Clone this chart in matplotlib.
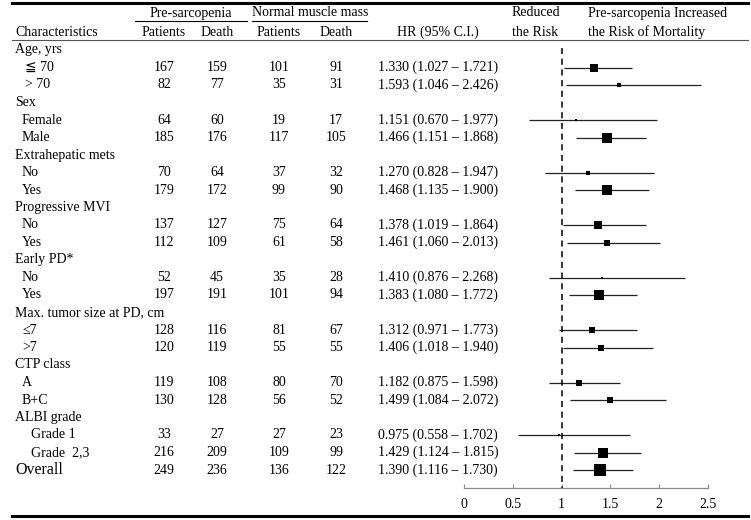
import matplotlib
matplotlib.use("Agg")
import matplotlib.pyplot as plt
import matplotlib.transforms as mtransforms

plt.rcParams['font.family'] = ['Liberation Serif', 'DejaVu Serif', 'DejaVu Sans', 'Noto Sans CJK JP']

# subgroup structure
groups = ["Age, yrs", "Sex", "Extrahepatic mets", "Progressive MVI", "Early PD*",
          "Max. tumor size at PD, cm", "CTP class", "ALBI grade"]
sublabels = [["\u2266 70", "> 70"], ["Female", "Male"], ["No", "Yes"], ["No", "Yes"],
             ["No", "Yes"], ["\u22647", ">7"], ["A", "B+C"], ["Grade 1", "Grade  2,3"]]

pre_pat = [167, 82, 64, 185, 70, 179, 137, 112, 52, 197, 128, 120, 119, 130, 33, 216, 249]
pre_death = [159, 77, 60, 176, 64, 172, 127, 109, 45, 191, 116, 119, 108, 128, 27, 209, 236]
norm_pat = [101, 35, 19, 117, 37, 99, 75, 61, 35, 101, 81, 55, 80, 56, 27, 109, 136]
norm_death = [91, 31, 17, 105, 32, 90, 64, 58, 28, 94, 67, 55, 70, 52, 23, 99, 122]
hr = [1.330, 1.593, 1.151, 1.466, 1.270, 1.468, 1.378, 1.461, 1.410, 1.383,
      1.312, 1.406, 1.182, 1.499, 0.975, 1.429, 1.390]
lo = [1.027, 1.046, 0.670, 1.151, 0.828, 1.135, 1.019, 1.060, 0.876, 1.080,
      0.971, 1.018, 0.875, 1.084, 0.558, 1.124, 1.116]
hi = [1.721, 2.426, 1.977, 1.868, 1.947, 1.900, 1.864, 2.013, 2.268, 1.772,
      1.773, 1.940, 1.598, 2.072, 1.702, 1.815, 1.730]
xticks = [0, 0.5, 1, 1.5, 2, 2.5]

W, H = 751, 520
fig = plt.figure(figsize=(W / 100, H / 100), dpi=100)

def fx(px):
    return px / W

def fy(py):
    return 1 - py / H

# forest axes: rows are 17.5 px apart, first row at y=50 px
row0, step = 50, 17.5
top_px, bot_px = 40, 488
ax = fig.add_axes([fx(464), fy(bot_px), fx(708) - fx(464), (bot_px - top_px) / H])
ax.set_xlim(0, 2.5)
ax.set_ylim((bot_px - row0) / step, (top_px - row0) / step)

trans = mtransforms.blended_transform_factory(fig.transFigure, ax.transData)
fs = 10

# build row list
rows_y = []
r = 0
for g, subs in zip(groups, sublabels):
    ax.text(fx(15), r, g, transform=trans, ha='left', va='center', fontsize=fs)
    r += 1
    for s in subs:
        indent = 31 if s.startswith("Grade") else (25 if "70" in s else 22)
        ax.text(fx(indent), r, s, transform=trans, ha='left', va='center', fontsize=fs)
        rows_y.append(r)
        r += 1
ax.text(fx(15), r, "Overall", transform=trans, ha='left', va='center', fontsize=11.5)
rows_y.append(r)

for i, y in enumerate(rows_y):
    for xc, v in zip([164, 217, 279, 336], [pre_pat[i], pre_death[i], norm_pat[i], norm_death[i]]):
        ax.text(fx(xc), y, str(v), transform=trans, ha='center', va='center', fontsize=fs)
    ax.text(fx(438), y, "%.3f (%.3f \u2013 %.3f)" % (hr[i], lo[i], hi[i]),
            transform=trans, ha='center', va='center', fontsize=fs)
    size = (pre_pat[i] + norm_pat[i]) * 0.024
    ax.errorbar(hr[i], y, xerr=[[hr[i] - lo[i]], [hi[i] - hr[i]]], fmt='s',
                color='black', ecolor='#222222', elinewidth=0.9, capsize=2.5,
                capthick=0.9, markersize=size, markeredgewidth=0)

ax.plot([1, 1], [-0.1, (bot_px - row0) / step], color='black', linestyle=(0, (4, 3)),
        linewidth=1.1)

for sp in ['left', 'top', 'right']:
    ax.spines[sp].set_visible(False)
ax.spines['bottom'].set_bounds(0, 2.5)
ax.spines['bottom'].set_color('#888888')
ax.spines['bottom'].set_linewidth(0.9)
ax.set_yticks([])
ax.set_xticks(xticks)
ax.set_xticklabels([("%g" % t) for t in xticks])
ax.tick_params(axis='x', direction='in', length=3, color='#888888', labelsize=fs, pad=7)
ax.patch.set_visible(False)

# header
ax.text(fx(191), fy(13), "Pre-sarcopenia", transform=fig.transFigure, ha='center', va='center', fontsize=fs)
ax.text(fx(310), fy(13), "Normal muscle mass", transform=fig.transFigure, ha='center', va='center', fontsize=fs)
ax.text(fx(15), fy(32), "Characteristics", transform=fig.transFigure, ha='left', va='center', fontsize=fs)
for xc, t in zip([164, 217, 279, 336], ["Patients", "Death", "Patients", "Death"]):
    ax.text(fx(xc), fy(32), t, transform=fig.transFigure, ha='center', va='center', fontsize=fs)
ax.text(fx(438), fy(32), "HR (95% C.I.)", transform=fig.transFigure, ha='center', va='center', fontsize=fs)
ax.text(fx(512), fy(13), "Reduced", transform=fig.transFigure, ha='left', va='center', fontsize=fs)
ax.text(fx(512), fy(32), "the Risk", transform=fig.transFigure, ha='left', va='center', fontsize=fs)
ax.text(fx(588), fy(13), "Pre-sarcopenia Increased", transform=fig.transFigure, ha='left', va='center', fontsize=fs)
ax.text(fx(588), fy(32), "the Risk of Mortality", transform=fig.transFigure, ha='left', va='center', fontsize=fs)

# rules
fig.add_artist(plt.Line2D([fx(135), fx(247)], [fy(21), fy(21)], color='black', linewidth=0.8))
fig.add_artist(plt.Line2D([fx(252), fx(367)], [fy(21), fy(21)], color='black', linewidth=0.8))
fig.add_artist(plt.Line2D([fx(12), fx(748)], [fy(40), fy(40)], color='#555555', linewidth=0.8))
fig.add_artist(plt.Line2D([fx(12), fx(748)], [fy(3), fy(3)], color='black', linewidth=2.2))
fig.add_artist(plt.Line2D([fx(12), fx(748)], [fy(516), fy(516)], color='black', linewidth=2.2))

fig.savefig("out.png", dpi=100)
